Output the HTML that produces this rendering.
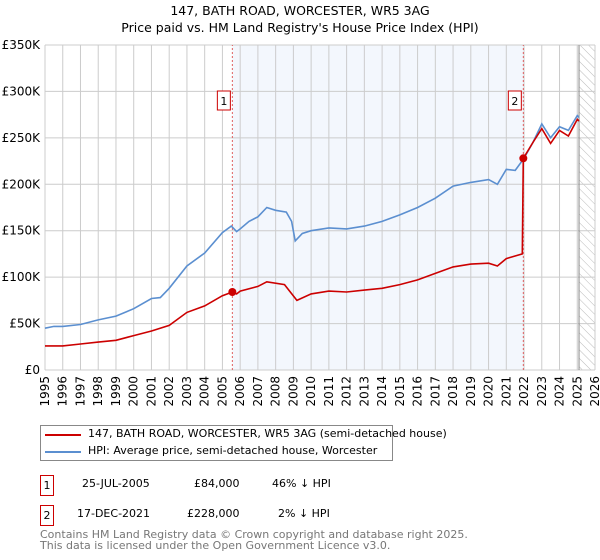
<!DOCTYPE html>
<html><head><meta charset="utf-8"><style>
body{margin:0;background:#fff;font-family:"DejaVu Sans","Liberation Sans",sans-serif;}
#wrap{position:relative;width:600px;height:560px;overflow:hidden}
.t{position:absolute;font-size:12px;color:#000;white-space:nowrap}
</style></head><body><div id="wrap">
<svg id="c" width="600" height="420" style="position:absolute;left:0;top:0">
<defs><pattern id="h" width="6" height="6" patternUnits="userSpaceOnUse" patternTransform="rotate(-45)"><line x1="0" y1="0" x2="0" y2="6" stroke="#bbb" stroke-width="1"/></pattern></defs>
<text x="300" y="15" text-anchor="middle" font-size="12.5">147, BATH ROAD, WORCESTER, WR5 3AG</text>
<text x="300" y="32" text-anchor="middle" font-size="12.5">Price paid vs. HM Land Registry's House Price Index (HPI)</text>
<g id="g"></g>
</svg>
<div style="position:absolute;left:40px;top:425px;width:353px;height:36px;border:1px solid #888;box-sizing:border-box">
<div style="position:absolute;left:4px;top:8px;width:36px;height:2px;background:#cc0000"></div>
<div class="t" style="left:47px;top:1px;font-size:11px">147, BATH ROAD, WORCESTER, WR5 3AG (semi-detached house)</div>
<div style="position:absolute;left:4px;top:25px;width:36px;height:2px;background:#5b8fd0"></div>
<div class="t" style="left:47px;top:18px;font-size:11px">HPI: Average price, semi-detached house, Worcester</div>
</div>
<div style="position:absolute;left:40px;top:475px;width:12px;height:19px;border:1px solid #cc0000;font-size:11px;text-align:center;line-height:19px">1</div>
<div class="t" style="left:82px;top:477px;font-size:11px">25-JUL-2005</div>
<div class="t" style="left:194px;top:477px;font-size:11px">£84,000</div>
<div class="t" style="left:272px;top:477px;font-size:11px">46% ↓ HPI</div>
<div style="position:absolute;left:40px;top:505px;width:12px;height:19px;border:1px solid #cc0000;font-size:11px;text-align:center;line-height:19px">2</div>
<div class="t" style="left:77px;top:507px;font-size:11px">17-DEC-2021</div>
<div class="t" style="left:187px;top:507px;font-size:11px">£228,000</div>
<div class="t" style="left:278px;top:507px;font-size:11px">2% ↓ HPI</div>
<div class="t" style="left:40px;top:529px;font-size:11px;color:#777;line-height:11px">Contains HM Land Registry data © Crown copyright and database right 2025.<br>This data is licensed under the Open Government Licence v3.0.</div>
</div>
<script>
const yTicks=[0,50,100,150,200,250,300,350];
const yTickLabels=["£0","£50K","£100K","£150K","£200K","£250K","£300K","£350K"];
const xYears=[1995,1996,1997,1998,1999,2000,2001,2002,2003,2004,2005,2006,2007,2008,2009,2010,2011,2012,2013,2014,2015,2016,2017,2018,2019,2020,2021,2022,2023,2024,2025,2026];
const hpiT=[1995,1995.5,1996,1997,1998,1999,2000,2001,2001.5,2002,2003,2004,2005,2005.5,2005.8,2006,2006.5,2007,2007.5,2008,2008.6,2008.9,2009.1,2009.5,2010,2011,2012,2013,2014,2015,2016,2017,2018,2019,2020,2020.5,2021,2021.5,2022,2022.5,2023,2023.5,2024,2024.5,2025,2025.1];
const hpiV=[45,47,47,49,54,58,66,77,78,88,112,126,148,155,149,152,160,165,175,172,170,160,139,147,150,153,152,155,160,167,175,185,198,202,205,200,216,215,228,245,265,250,262,258,274,272];
const ppT=[1995,1996,1997,1998,1999,2000,2001,2002,2003,2004,2005,2005.56,2005.8,2006,2007,2007.5,2008.5,2009.2,2010,2011,2012,2013,2014,2015,2016,2017,2018,2019,2020,2020.5,2021,2021.9,2021.96,2022.5,2023,2023.5,2024,2024.5,2025,2025.1];
const ppV=[26,26,28,30,32,37,42,48,62,69,80,84,82,85,90,95,92,75,82,85,84,86,88,92,97,104,111,114,115,112,120,125,228,245,260,244,258,252,270,268];
const sales=[[2005.56,84,"1"],[2021.96,228,"2"]];
const X=y=>45+(y-1995)*17.742, Y=v=>370-v*0.9286;
const NS="http://www.w3.org/2000/svg", g=document.getElementById('g');
function mk(t,a,p){const e=document.createElementNS(NS,t);for(const k in a)e.setAttribute(k,a[k]);(p||g).appendChild(e);return e;}
let e=mk('rect',{x:X(2005.56),y:Y(350),width:X(2021.96)-X(2005.56),height:Y(0)-Y(350),fill:'#eef3fc',opacity:0.7});

e=mk('rect',{x:X(2025.1),y:Y(350),width:X(2026)-X(2025.1),height:Y(0)-Y(350),fill:'url(#h)'});

yTicks.forEach((v,i)=>{let l=mk('line',{x1:45,x2:X(2026),y1:Y(v),y2:Y(v),stroke:'#ccc'});

let t=mk('text',{x:40,y:Y(v)+4,'text-anchor':'end','font-size':12});t.textContent=yTickLabels[i];
});
xYears.forEach(yr=>{let l=mk('line',{x1:X(yr),x2:X(yr),y1:Y(0),y2:Y(350),stroke:'#ccc'});

let t=mk('text',{x:0,y:0,'text-anchor':'end','font-size':12,transform:`translate(${X(yr)+4},376) rotate(-90)`});t.textContent=yr;
});
e=mk('line',{x1:X(2025.1),x2:X(2025.1),y1:Y(0),y2:Y(350),stroke:'#888'});

sales.forEach(s=>{let l=mk('line',{x1:X(s[0]),x2:X(s[0]),y1:Y(0),y2:Y(350),stroke:'#e06060','stroke-dasharray':'2,2'});
});
function path(T,V,c,n){let d=T.map((t,i)=>(i?'L':'M')+X(t).toFixed(1)+','+Y(V[i]).toFixed(1)).join('');
let p=mk('path',{d:d,fill:'none',stroke:c,'stroke-width':1.6});}
path(hpiT,hpiV,'#5b8fd0','hpi-line');
path(ppT,ppV,'#cc0000','price-paid-line');
sales.forEach(s=>{let c=mk('circle',{cx:X(s[0]),cy:Y(s[1]),r:4,fill:'#cc0000'});

let r=mk('rect',{x:X(s[0])-15,y:91,width:13,height:19,fill:'#fff',stroke:'#cc0000'});

let t=mk('text',{x:X(s[0])-8.5,y:105,'text-anchor':'middle','font-size':11});t.textContent=s[2];
});
</script></body></html>
